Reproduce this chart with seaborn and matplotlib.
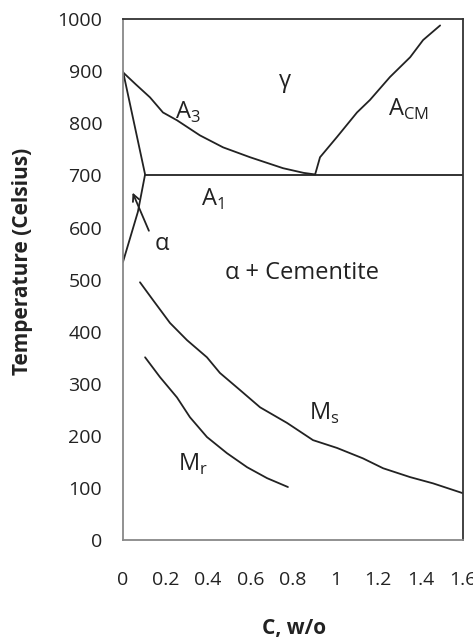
import matplotlib
matplotlib.use("Agg")
import matplotlib.pyplot as plt
import pandas as pd
import seaborn as sns

# phase boundaries (C in w/o, T in Celsius)
a3_c = [0.0, 0.06, 0.127, 0.188, 0.254, 0.362, 0.471, 0.598, 0.753, 0.85, 0.904]
a3_t = [898, 875, 850, 821, 806, 777, 754, 735, 714, 705, 702]

acm_c = [0.904, 0.927, 1.007, 1.101, 1.162, 1.256, 1.351, 1.412, 1.492]
acm_t = [702, 735, 774, 821, 845, 889, 927, 960, 988]

alpha_c = [0.0, 0.104, 0.07, 0.0]
alpha_t = [900, 702, 630, 534]

a1_c = [0.104, 1.6]
a1_t = [700, 700]

ms_c = [0.08, 0.141, 0.221, 0.301, 0.395, 0.456, 0.551, 0.645, 0.772, 0.894,
        1.007, 1.129, 1.224, 1.351, 1.459, 1.6]
ms_t = [495, 461, 417, 384, 351, 321, 288, 255, 225, 192, 177, 157, 138, 121,
        109, 90]

mr_c = [0.104, 0.174, 0.254, 0.315, 0.395, 0.489, 0.584, 0.678, 0.776]
mr_t = [351, 313, 274, 236, 198, 167, 140, 119, 102]

x_ticks = [0, 0.2, 0.4, 0.6, 0.8, 1, 1.2, 1.4, 1.6]
x_labels = ["0", "0.2", "0.4", "0.6", "0.8", "1", "1.2", "1.4", "1.6"]
y_ticks = list(range(0, 1001, 100))

sns.set_theme(style="white")
plt.rcParams["font.family"] = ["Open Sans", "DejaVu Sans"]
plt.rcParams["mathtext.fontset"] = "custom"
plt.rcParams["mathtext.rm"] = "Open Sans"

fig = plt.figure(figsize=(4.73, 6.4), dpi=100)
ax = fig.add_axes([0.260, 0.156, 0.719, 0.814])

line_kw = dict(color="#222222", linewidth=1.3, sort=False, estimator=None)
for cs, ts in [(a3_c, a3_t), (acm_c, acm_t), (alpha_c, alpha_t),
               (a1_c, a1_t), (ms_c, ms_t), (mr_c, mr_t)]:
    df = pd.DataFrame({"c": cs, "t": ts})
    sns.lineplot(data=df, x="c", y="t", ax=ax, **line_kw)

ax.annotate("", xy=(0.04, 672), xytext=(0.127, 589),
            arrowprops=dict(arrowstyle="->", color="#222222", lw=1.3))

txt = dict(fontsize=17, color="#222222", ha="center", va="center")
ax.text(0.184, 568, "α", **txt)
ax.text(0.762, 881, "γ", **txt)
ax.text(0.306, 822, r"A$_\mathregular{3}$", **txt)
ax.text(1.341, 826, r"A$_\mathregular{CM}$", **txt)
ax.text(0.419, 655, r"A$_\mathregular{1}$", **txt)
ax.text(0.842, 512, "α + Cementite", **txt)
ax.text(0.945, 243, r"M$_\mathregular{s}$", **txt)
ax.text(0.329, 145, r"M$_\mathregular{r}$", **txt)

ax.set_xlim(0, 1.6)
ax.set_ylim(0, 1000)
ax.set_xticks(x_ticks)
ax.set_xticklabels(x_labels)
ax.set_yticks(y_ticks)
ax.tick_params(axis="both", direction="in", length=6, width=1,
               color="#888888", labelsize=14, labelcolor="#222222")
ax.tick_params(axis="x", pad=22)
ax.tick_params(axis="y", pad=15)

for side in ["left", "bottom"]:
    ax.spines[side].set_color("#888888")
    ax.spines[side].set_linewidth(1.3)
for side in ["top", "right"]:
    ax.spines[side].set_color("#333333")
    ax.spines[side].set_linewidth(1.3)

ax.set_xlabel("C, w/o", fontsize=15, fontweight="bold", color="#222222",
              va="center")
ax.set_ylabel("Temperature (Celsius)", fontsize=15, fontweight="bold",
              color="#222222", va="center")
ax.xaxis.set_label_coords(0.503, -0.169)
ax.yaxis.set_label_coords(-0.294, 0.536)

fig.savefig("out.png", dpi=100, facecolor="white")
